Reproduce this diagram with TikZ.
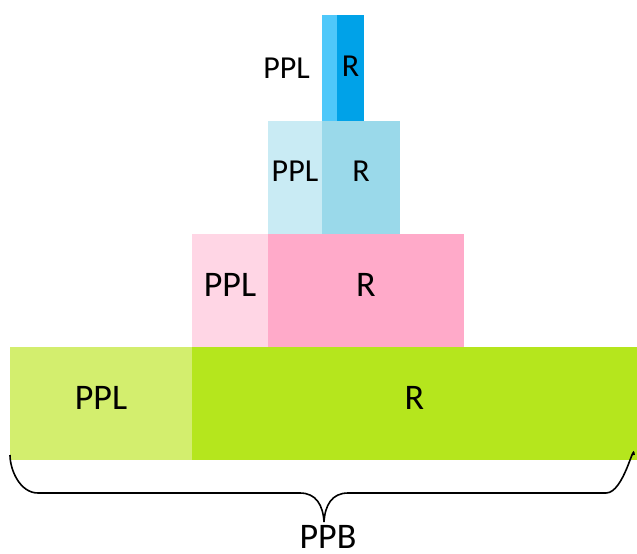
\documentclass[tikz,border=0pt]{standalone}
\usepackage{fontspec}
\setmainfont{Carlito}
\usetikzlibrary{positioning}
\definecolor{limer}{HTML}{B5E61D}
\definecolor{limeppl}{HTML}{D3EE6E}
\definecolor{roser}{HTML}{FFAAC9}
\definecolor{roseppl}{HTML}{FFD6E5}
\definecolor{skyr}{HTML}{9AD9EA}
\definecolor{skyppl}{HTML}{C9EBF4}
\definecolor{sear}{HTML}{00A2E8}
\definecolor{seappl}{HTML}{4FC8FA}
\newcommand{\biglbl}{\fontsize{36}{36}\selectfont}
\newcommand{\smalllbl}{\fontsize{32}{32}\selectfont}

\begin{document}
\begin{tikzpicture}[x=1pt,y=-1pt,
    part/.style={inner sep=0pt, outer sep=0pt, text depth=12pt, minimum height=113pt},
    big part/.style={part, font=\biglbl},
    small part/.style={part, font=\smalllbl}]
    \useasboundingbox (0,0) rectangle (637,554);

    \node[big part, fill=limeppl, minimum width=182pt, anchor=north west] (gppl) at (10,347) {PPL};
    \node[big part, fill=limer, minimum width=445pt] (gr) [right=0pt of gppl] {R};
    \node[big part, fill=roseppl, minimum width=76pt] (pppl) [above right=0pt and 0pt of gppl.north east] {PPL};
    \node[big part, fill=roser, minimum width=196pt] (pr) [right=0pt of pppl] {R};
    \node[small part, fill=skyppl, minimum width=54pt] (bppl) [above right=0pt and 0pt of pppl.north east] {PPL};
    \node[small part, fill=skyr, minimum width=78pt] (br) [right=0pt of bppl] {R};
    \node[small part, fill=seappl, minimum width=15pt, minimum height=106pt] (tppl) [above right=0pt and 0pt of bppl.north east] {};
    \node[small part, fill=sear, minimum width=27pt, minimum height=106pt, text depth=4pt] (tr) [right=0pt of tppl] {R};
    \node[font=\smalllbl, inner sep=0pt] (tlbl) [left=12pt of tppl] {PPL};

    % brace under the whole bar
    \coordinate (bl) at ([yshift=5pt]gppl.south west);
    \coordinate (br) at ([xshift=-3pt,yshift=5pt]gr.south east);
    \coordinate (tip) at (324,522);
    \draw[line width=1.6pt]
    (bl) .. controls ++(0,15) and (20,493) .. (38,493) -- (300,493)
    .. controls (316,493) and (323,505) .. (tip)
    .. controls (325,505) and (332,493) .. (348,493) -- (606,493)
    .. controls (624,493) and ([yshift=15pt]br) .. (br);
    \node[font=\biglbl, inner sep=0pt, anchor=base] (ppb) at (328,548) {PPB};
\end{tikzpicture}
\end{document}
